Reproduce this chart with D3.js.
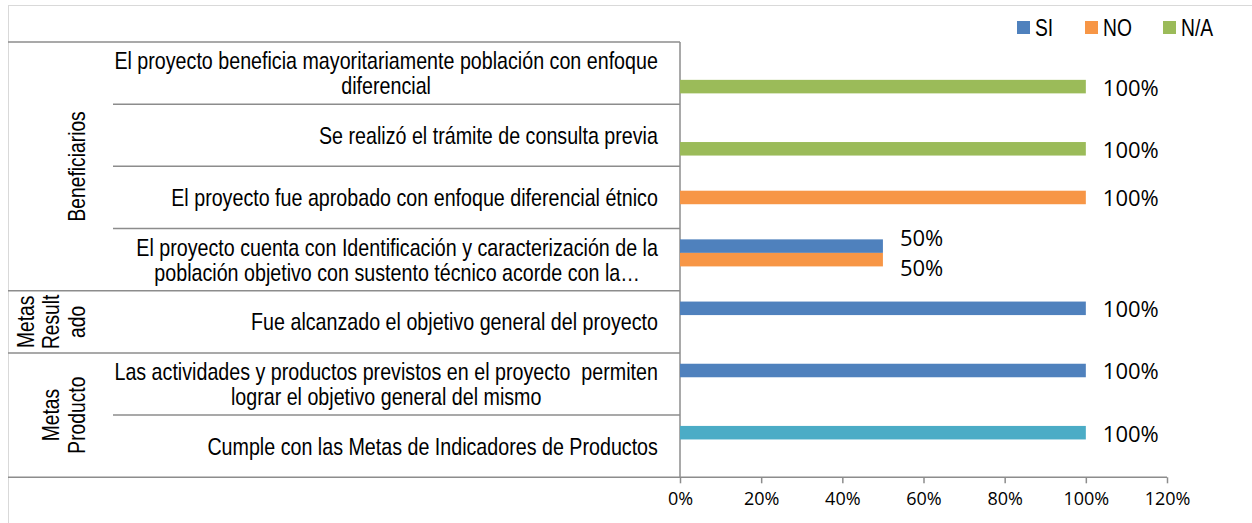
<!DOCTYPE html>
<html>
<head>
<meta charset="utf-8">
<script src="https://cdn.jsdelivr.net/npm/d3@7"></script>
<style>
    body { margin: 0; background: #fff; }
    svg { display: block; }
    .cat text, .grp text, .legend text { font-family: "Liberation Sans", Arial, sans-serif; fill: #000; white-space: pre; }
    .ticks text, .labels text { font-family: "Open Sans", "Liberation Sans", sans-serif; fill: #000; }
</style>
</head>
<body>
<svg id="chart" width="1252" height="523"></svg>
<script>
var categories = [
    ["El proyecto beneficia mayoritariamente población con enfoque", "diferencial"],
    ["Se realizó el trámite de consulta previa"],
    ["El proyecto fue aprobado con enfoque diferencial étnico"],
    ["El proyecto cuenta con Identificación y caracterización de la", "población objetivo con sustento técnico acorde con la…"],
    ["Fue alcanzado el objetivo general del proyecto"],
    ["Las actividades y productos previstos en el proyecto  permiten", "lograr el objetivo general del mismo"],
    ["Cumple con las Metas de Indicadores de Productos"]
];
var groupLabels = [["Beneficiarios"], ["Metas", "Result", "ado"], ["Metas", "Producto"]];
var groupSizes = [4, 1, 2];

var seriesNames = ["SI", "NO", "N/A"];
var siValues = [0, 0, 0, 0.5, 1, 1, 1];
var noValues = [0, 0, 1, 0.5, 0, 0, 0];
var naValues = [1, 1, 0, 0, 0, 0, 0];
var xTicks = [0, 0.2, 0.4, 0.6, 0.8, 1, 1.2];

var colors = ["#4f81bd", "#f79646", "#9bbb59"];
var lastSiColor = "#4bacc6"; // el ultimo punto de SI va en otro color

var svg = d3.select("#chart");
var lineColor = "#8c8c8c";
var narrow = 0.82; // Arial Narrow = Arial comprimida

var plotLeft = 680, plotRight = 1167, plotTop = 42, plotBottom = 477.3;
var tableLeft = 8, innerLeft = 113, labelRight = 658;

// borde del grafico
svg.append("rect")
    .attr("x", 8.5).attr("y", 5.5)
    .attr("width", 1260).attr("height", 530)
    .attr("fill", "none").attr("stroke", "#d9d9d9");

var x = d3.scaleLinear().domain([0, 1.2]).range([plotLeft, plotRight]);
var y = d3.scaleBand().domain(d3.range(categories.length)).range([plotTop, plotBottom]);
var ySeries = d3.scaleBand().domain(seriesNames).range([0, y.bandwidth()]).paddingOuter(0.8);

var series = seriesNames.map(function(name, i) {
    var vals = [siValues, noValues, naValues][i];
    return vals.map(function(v, j) {
        return { name: name, s: i, cat: j, value: v };
    });
});
var points = d3.merge(series).filter(function(d) { return d.value > 0; });

// lineas de la tabla de categorias
var groupStarts = [];
var acc = 0;
groupSizes.forEach(function(n) { groupStarts.push(acc); acc += n; });

var rowLines = d3.range(categories.length + 1);
svg.append("g")
    .attr("class", "table")
    .selectAll("line")
    .data(rowLines)
    .enter().append("line")
    .attr("x1", function(i) {
        return (i == categories.length || groupStarts.indexOf(i) >= 0) ? tableLeft : innerLeft;
    })
    .attr("x2", function(i) { return i == categories.length ? plotRight : plotLeft; })
    .attr("y1", function(i) { return i == categories.length ? plotBottom : y(i); })
    .attr("y2", function(i) { return i == categories.length ? plotBottom : y(i); })
    .attr("stroke", lineColor)
    .attr("stroke-width", 1.5);

// eje vertical
svg.append("line")
    .attr("x1", plotLeft).attr("x2", plotLeft)
    .attr("y1", plotTop).attr("y2", plotBottom)
    .attr("stroke", lineColor).attr("stroke-width", 1.5);

// eje x
var xAxis = svg.append("g")
    .attr("class", "ticks")
    .attr("transform", "translate(0," + plotBottom + ")")
    .call(d3.axisBottom(x).tickValues(xTicks).tickFormat(d3.format(".0%")).tickSize(6).tickPadding(9));
xAxis.select(".domain").remove();
xAxis.selectAll("line").attr("stroke", lineColor).attr("stroke-width", 1.5);
xAxis.selectAll("text").attr("font-size", 18).attr("fill", "#000");

// etiquetas de categoria
var lh = 25;
var cat = svg.append("g").attr("class", "cat")
    .selectAll("text")
    .data(categories)
    .enter().append("text")
    .attr("font-size", 24)
    .attr("text-anchor", "middle");

cat.each(function(lines, j) {
    var t = d3.select(this);
    var cy = y(j) + y.bandwidth() / 2;
    lines.forEach(function(l, k) {
        t.append("tspan")
            .attr("x", 0)
            .attr("y", cy - (lines.length - 1) * lh / 2 + k * lh)
            .attr("dy", "0.35em")
            .text(l);
    });
    var w = narrow * d3.max(t.selectAll("tspan").nodes(), function(n) { return n.getComputedTextLength(); });
    t.attr("transform", "translate(" + (labelRight - w / 2) + ",0) scale(" + narrow + ",1)");
});

// etiquetas de grupo (rotadas)
var glh = 25.5;
svg.append("g").attr("class", "grp")
    .selectAll("text")
    .data(groupLabels)
    .enter().append("text")
    .attr("font-size", 23.5)
    .attr("text-anchor", "middle")
    .each(function(lines, g) {
        var t = d3.select(this);
        var top = y(groupStarts[g]);
        var bottom = y(groupStarts[g] + groupSizes[g] - 1) + y.bandwidth();
        var cy = (top + bottom) / 2;
        t.attr("transform", "translate(0," + cy + ") rotate(-90) scale(" + narrow + ",1)");
        lines.forEach(function(l, k) {
            t.append("tspan")
                .attr("x", 0)
                .attr("y", 85 - (lines.length - 1 - k) * glh)
                .text(l);
        });
    });

// barras
svg.append("g")
    .attr("class", "bars")
    .selectAll("rect")
    .data(points)
    .enter().append("rect")
    .attr("x", x(0))
    .attr("y", function(d) { return y(d.cat) + ySeries(d.name); })
    .attr("width", function(d) { return x(d.value) - x(0); })
    .attr("height", ySeries.bandwidth())
    .attr("fill", function(d) {
        if (d.name == "SI" && d.cat == categories.length - 1) return lastSiColor;
        return colors[d.s];
    });

// etiquetas de datos
function labelY(d) {
    var same = points.filter(function(p) { return p.cat == d.cat; });
    var c = y(d.cat) + ySeries(d.name) + ySeries.bandwidth() / 2;
    if (same.length > 1) {
        var mid = d3.mean(same, function(p) { return y(p.cat) + ySeries(p.name) + ySeries.bandwidth() / 2; });
        var k = same.indexOf(d);
        return mid + (k - (same.length - 1) / 2) * 30;
    }
    return c + 1;
}
svg.append("g")
    .attr("class", "labels")
    .selectAll("text")
    .data(points)
    .enter().append("text")
    .attr("x", function(d) { return x(d.value) + 17; })
    .attr("y", labelY)
    .attr("dy", "0.36em")
    .attr("font-size", 22)
    .text(function(d) { return d3.format(".0%")(d.value); });

// leyenda
var legendX = [1017, 1085, 1163];
var legend = svg.append("g").attr("class", "legend")
    .selectAll("g")
    .data(seriesNames)
    .enter().append("g")
    .attr("transform", function(d, i) { return "translate(" + legendX[i] + ",21)"; });
legend.append("rect")
    .attr("width", 13).attr("height", 13)
    .attr("fill", function(d, i) { return colors[i]; });
legend.append("text")
    .attr("transform", "translate(18,7) scale(" + narrow + ",1)")
    .attr("dy", "0.36em")
    .attr("font-size", 23.5)
    .text(function(d) { return d; });
</script>
</body>
</html>
